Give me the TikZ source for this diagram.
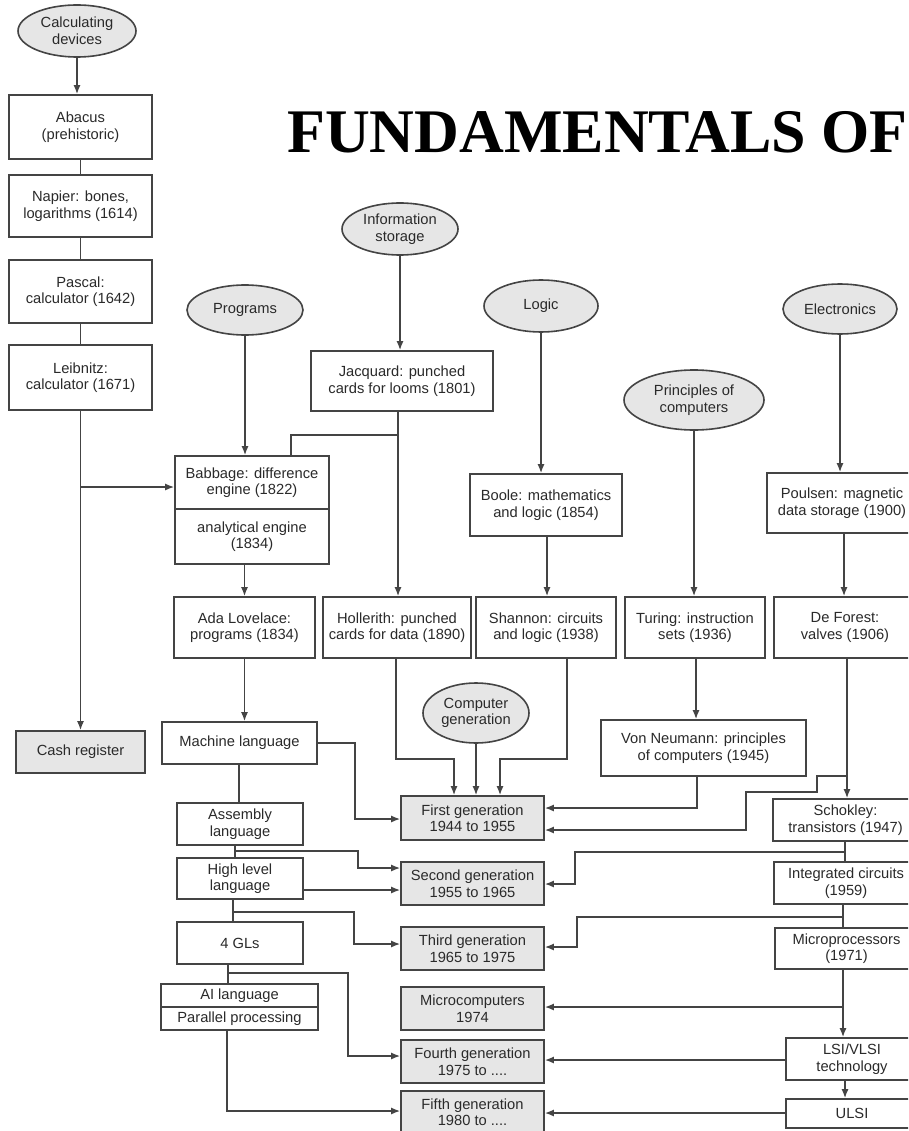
\documentclass[tikz,border=0pt]{standalone}
\usepackage{fontspec}
\setmainfont{Liberation Sans}
\newfontfamily\titlefont{Liberation Serif}
\usetikzlibrary{shapes.geometric,arrows.meta}
\definecolor{ln}{HTML}{444444}
\definecolor{tx}{HTML}{2A2A2A}
\definecolor{fl}{HTML}{E6E6E6}
\tikzset{
  bx/.style={draw=ln, line width=1.6pt, rectangle, inner sep=0pt, align=center, text=tx,
     font=\fontsize{14.7}{16.5}\selectfont},
  gbx/.style={bx, fill=fl},
  ell/.style={draw=ln, line width=1.6pt, ellipse, fill=fl, inner sep=0pt, align=center, text=tx,
     font=\fontsize{14.7}{16.5}\selectfont},
  ln/.style={draw=ln, line width=1.6pt},
  ar/.style={ln, -{Latex[length=9pt,width=7pt]}},
}
\begin{document}
\begin{tikzpicture}[x=1pt,y=-1pt]
\useasboundingbox (0,0) rectangle (908,1131);
\fill[white] (0,0) rectangle (908,1131);
\clip (0,0) rectangle (908,1131);

% title
\node[anchor=base west, inner sep=0pt, font=\titlefont\bfseries\fontsize{62}{62}\selectfont] (title) at (287,153) {FUNDAMENTALS OF};

% ellipses
\node[ell, minimum width=118pt, minimum height=52pt] (calc) at (77,31) {Calculating\\devices};
\node[ell, minimum width=116pt, minimum height=50pt] (prog) at (245,310) {Programs};
\node[ell, minimum width=116pt, minimum height=52pt] (info) at (400,229) {Information\\storage};
\node[ell, minimum width=114pt, minimum height=52pt] (logic) at (541,306) {Logic};
\node[ell, minimum width=140pt, minimum height=60pt] (princ) at (694,400) {Principles of\\computers};
\node[ell, minimum width=114pt, minimum height=50pt] (elec) at (840,309) {Electronics};
\node[ell, minimum width=106pt, minimum height=60pt] (cgen) at (476,713) {Computer\\generation};

% left column
\node[bx, minimum width=143pt, minimum height=64pt] (abacus) at (80.5,127) {Abacus\\(prehistoric)};
\node[bx, minimum width=143pt, minimum height=62pt] (napier) at (80.5,206) {Napier: bones,\\logarithms (1614)};
\node[bx, minimum width=143pt, minimum height=63pt] (pascal) at (80.5,291.5) {Pascal:\\calculator (1642)};
\node[bx, minimum width=143pt, minimum height=65pt] (leib) at (80.5,377.5) {Leibnitz:\\calculator (1671)};
\node[gbx, minimum width=129pt, minimum height=42pt] (cash) at (80.5,752) {Cash register};

% programs column
\node[bx, minimum width=154pt, minimum height=53pt] (babA) at (252,482.5) {Babbage: difference\\engine (1822)};
\node[bx, minimum width=154pt, minimum height=55pt] (babB) at (252,536.5) {analytical engine\\(1834)};
\node[bx, minimum width=141pt, minimum height=61pt] (ada) at (244.5,627.5) {Ada Lovelace:\\programs (1834)};
\node[bx, minimum width=155pt, minimum height=42pt] (mach) at (239.5,743) {Machine language};
\node[bx, minimum width=126pt, minimum height=42pt] (asm) at (240,824) {Assembly\\language};
\node[bx, minimum width=126pt, minimum height=41pt] (high) at (240,878.5) {High level\\language};
\node[bx, minimum width=126pt, minimum height=42pt] (fgl) at (240,943) {4 GLs};
\node[bx, minimum width=157pt, minimum height=23pt] (ai) at (239.5,995.5) {AI language};
\node[bx, minimum width=157pt, minimum height=23pt] (par) at (239.5,1018.5) {Parallel processing};

% information / logic columns
\node[bx, minimum width=182pt, minimum height=60pt] (jac) at (402,381) {Jacquard: punched\\cards for looms (1801)};
\node[bx, minimum width=148pt, minimum height=61pt] (holl) at (397,627.5) {Hollerith: punched\\cards for data (1890)};
\node[bx, minimum width=152pt, minimum height=62pt] (boole) at (546,505) {Boole: mathematics\\and logic (1854)};
\node[bx, minimum width=140pt, minimum height=61pt] (shan) at (546,627.5) {Shannon: circuits\\and logic (1938)};
\node[bx, minimum width=140pt, minimum height=61pt] (tur) at (695,627.5) {Turing: instruction\\sets (1936)};
\node[bx, minimum width=205pt, minimum height=56pt] (vonn) at (703.5,748) {Von Neumann: principles\\of computers (1945)};

% electronics column
\node[bx, minimum width=150pt, minimum height=60pt] (poul) at (842,503) {Poulsen: magnetic\\data storage (1900)};
\node[bx, minimum width=142pt, minimum height=61pt] (defo) at (845,627.5) {De Forest:\\valves (1906)};
\node[bx, minimum width=145pt, minimum height=42pt] (shok) at (845.5,820) {Schokley:\\transistors (1947)};
\node[bx, minimum width=144pt, minimum height=42pt] (ic) at (846,883) {Integrated circuits\\(1959)};
\node[bx, minimum width=143pt, minimum height=41pt] (mproc) at (846.5,948.5) {Microprocessors\\(1971)};
\node[bx, minimum width=132pt, minimum height=42pt] (lsi) at (852,1059) {LSI/VLSI\\technology};
\node[bx, minimum width=132pt, minimum height=29pt] (ulsi) at (852,1113.5) {ULSI};

% generations
\node[gbx, minimum width=143pt, minimum height=44pt] (g1) at (472.5,818) {First generation\\1944 to 1955};
\node[gbx, minimum width=143pt, minimum height=43pt] (g2) at (472.5,883.5) {Second generation\\1955 to 1965};
\node[gbx, minimum width=143pt, minimum height=43pt] (g3) at (472.5,948.5) {Third generation\\1965 to 1975};
\node[gbx, minimum width=143pt, minimum height=43pt] (mc) at (472.5,1008.5) {Microcomputers\\1974};
\node[gbx, minimum width=143pt, minimum height=43pt] (g4) at (472.5,1061.5) {Fourth generation\\1975 to ....};
\node[gbx, minimum width=143pt, minimum height=42pt] (g5) at (472.5,1112) {Fifth generation\\1980 to ....};

% junction coordinates
\coordinate (jLeib) at (81,487);
\coordinate (jJac) at (398,435);
\coordinate (jDef) at (847,776);
\coordinate (jAsm) at (235,851);
\coordinate (jHigh) at (233,912);
\coordinate (jFgl) at (228,973);
\coordinate (jShok) at (845,852);
\coordinate (jIc) at (843,917);
\coordinate (jMp) at (843,1007);

% connectors: left column
\draw[ar] (calc.south) -- (calc.south |- abacus.north);
\draw[ln] (abacus) -- (napier);
\draw[ln] (napier) -- (pascal);
\draw[ln] (pascal) -- (leib);
\draw[ar] (leib.south) -- (cash.north);
\draw[ar] (jLeib) -- (babA.west |- jLeib);

% programs
\draw[ar] (prog.south) -- (prog.south |- babA.north);
\draw[ar] (ada.north |- babB.south) -- (ada.north);
\draw[ar] (ada.south) -- (ada.south |- mach.north);

% information storage
\draw[ar] (info.south) -- (info.south |- jac.north);
\draw[ar] (jac.south -| jJac) -- (jJac |- holl.north);
\draw[ln] (jJac) -| (291,0 |- babA.north);

% logic
\draw[ar] (logic.south) -- (logic.south |- boole.north);
\draw[ar] (547,0 |- boole.south) -- (547,0 |- shan.north);

% principles
\draw[ar] (princ.south) -- (princ.south |- tur.north);
\draw[ar] (696,0 |- tur.south) -- (696,0 |- vonn.north);

% electronics
\draw[ar] (elec.south) -- (elec.south |- poul.north);
\draw[ar] (844,0 |- poul.south) -- (844,0 |- defo.north);
\draw[ar] (jDef |- defo.south) -- (jDef |- shok.north);

% into first generation
\draw[ar] (396,0 |- holl.south) |- (454,759) -- (454,0 |- g1.north);
\draw[ar] (cgen.south) -- (cgen.south |- g1.north);
\draw[ar] (567,0 |- shan.south) |- (500,759) -- (500,0 |- g1.north);
\draw[ar] (mach.east) -| (355,819) -- (g1.west |- 0,819);
\draw[ar] (697,0 |- vonn.south) |- (g1.east |- 0,808);
\draw[ar] (jDef) -| (817,792) -| (746,830) -- (g1.east |- 0,830);

% language column
\draw[ln] (239,0 |- mach.south) -- (239,0 |- asm.north);
\draw[ln] (jAsm |- asm.south) -- (jAsm |- high.north);
\draw[ar] (jAsm) -| (358,868) -- (g2.west |- 0,868);
\draw[ar] (high.east |- 0,890) -- (g2.west |- 0,890);
\draw[ln] (jHigh |- high.south) -- (jHigh |- fgl.north);
\draw[ar] (jHigh) -| (354,944) -- (g3.west |- 0,944);
\draw[ln] (jFgl |- fgl.south) -- (jFgl |- ai.north);
\draw[ar] (jFgl) -| (348,1056) -- (g4.west |- 0,1056);
\draw[ar] (227,0 |- par.south) |- (g5.west |- 0,1111);

% electronics lower
\draw[ln] (jShok |- shok.south) -- (jShok |- ic.north);
\draw[ar] (jShok) -| (575,884) -- (g2.east |- 0,884);
\draw[ln] (jIc |- ic.south) -- (jIc |- mproc.north);
\draw[ar] (jIc) -| (577,947) -- (g3.east |- 0,947);
\draw[ar] (jMp |- mproc.south) -- (jMp |- lsi.north);
\draw[ar] (jMp) -- (mc.east |- jMp);
\draw[ar] (lsi.west |- 0,1060) -- (g4.east |- 0,1060);
\draw[ar] (845,0 |- lsi.south) -- (845,0 |- ulsi.north);
\draw[ar] (ulsi.west |- 0,1113) -- (g5.east |- 0,1113);
\end{tikzpicture}
\end{document}
